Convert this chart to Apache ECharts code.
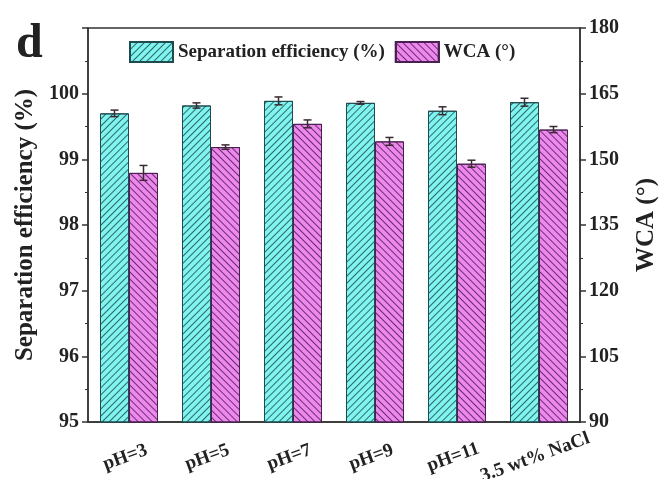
<!DOCTYPE html>
<html>
<head>
<meta charset="utf-8">
<script src="https://cdn.jsdelivr.net/npm/echarts@6/dist/echarts.min.js"></script>
<style>
html, body { margin: 0; padding: 0; background: #fff; }
#main { width: 660px; height: 479px; }
</style>
</head>
<body>
<div id="main"></div>
<script>
var categories = ['pH=3', 'pH=5', 'pH=7', 'pH=9', 'pH=11', '3.5 wt% NaCl'];
var sepEff = [99.70, 99.82, 99.89, 99.86, 99.74, 99.87];
var sepErr = [0.05, 0.04, 0.06, 0.02, 0.06, 0.06];
var wca = [146.9, 152.8, 158.1, 154.1, 149.0, 156.8];
var wcaErr = [1.7, 0.5, 0.9, 0.9, 0.8, 0.7];

var FONT = 'Liberation Serif';
var BAR_W = 29;

function errData(vals, errs) {
    return vals.map(function (v, i) { return [i, v, errs[i]]; });
}

// error bar drawn on top of each bar, shifted left/right to the bar centre
function errRender(offset) {
    return function (params, api) {
        var i = api.value(0), v = api.value(1), e = api.value(2);
        var hi = api.coord([i, v + e]);
        var lo = api.coord([i, v - e]);
        var x = hi[0] + offset;
        var cap = 4;
        var st = { stroke: '#3a2a30', lineWidth: 1.5 };
        return {
            type: 'group',
            children: [
                { type: 'line', shape: { x1: x, y1: hi[1], x2: x, y2: lo[1] }, style: st },
                { type: 'line', shape: { x1: x - cap, y1: hi[1], x2: x + cap, y2: hi[1] }, style: st },
                { type: 'line', shape: { x1: x - cap, y1: lo[1], x2: x + cap, y2: lo[1] }, style: st }
            ]
        };
    };
}

var chart = echarts.init(document.getElementById('main'));
chart.setOption({
    animation: false,
    title: {
        text: 'd', left: 11, top: 16,
        textStyle: { fontFamily: FONT, fontWeight: 'bold', fontSize: 48, color: '#222' }
    },
    legend: {
        top: 36, left: 124,
        icon: 'rect',
        itemWidth: 43, itemHeight: 20, itemGap: 10,
        textStyle: { fontFamily: FONT, fontWeight: 'bold', fontSize: 19, color: '#222' },
        data: ['Separation efficiency (%)', 'WCA (°)']
    },
    grid: {
        left: 88, right: 80, top: 28, bottom: 57,
        outerBoundsMode: 'none', containLabel: false,
        show: true, borderColor: '#333', borderWidth: 1.5
    },
    xAxis: {
        type: 'category',
        data: categories,
        axisLine: { lineStyle: { color: '#333', width: 1.5 } },
        axisTick: { alignWithLabel: true, length: 6, lineStyle: { color: '#333', width: 1.5 } },
        axisLabel: {
            rotate: 20, align: 'center', margin: 34, color: '#222',
            padding: [0, 8, 0, 0],
            fontFamily: FONT, fontWeight: 'bold', fontSize: 19
        }
    },
    yAxis: [{
        type: 'value', min: 95, max: 101, interval: 1,
        name: 'Separation efficiency (%)', nameLocation: 'middle', nameGap: 40, nameRotate: 90,
        nameTextStyle: { fontFamily: FONT, fontWeight: 'bold', fontSize: 25, color: '#222' },
        axisLine: { show: true, lineStyle: { color: '#333', width: 1.5 } },
        axisTick: { show: true, length: 6, lineStyle: { color: '#333', width: 1.5 } },
        minorTick: { show: true, splitNumber: 2, length: 3, lineStyle: { color: '#333' } },
        splitLine: { show: false },
        axisLabel: {
            color: '#222', fontFamily: FONT, fontWeight: 'bold', fontSize: 20, margin: 9,
            formatter: function (v) { return v > 100 ? '' : v; }
        }
    }, {
        type: 'value', min: 90, max: 180, interval: 15,
        name: 'WCA (°)', nameLocation: 'middle', nameGap: 54, nameRotate: 90,
        nameTextStyle: { fontFamily: FONT, fontWeight: 'bold', fontSize: 25, color: '#222' },
        axisLine: { show: true, lineStyle: { color: '#333', width: 1.5 } },
        axisTick: { show: true, length: 6, lineStyle: { color: '#333', width: 1.5 } },
        minorTick: { show: true, splitNumber: 2, length: 3, lineStyle: { color: '#333' } },
        splitLine: { show: false },
        axisLabel: { color: '#222', fontFamily: FONT, fontWeight: 'bold', fontSize: 20, margin: 9 }
    }],
    series: [{
        name: 'Separation efficiency (%)',
        type: 'bar', barWidth: BAR_W, barGap: '0%',
        data: sepEff,
        itemStyle: {
            color: '#80f4ee', borderColor: '#1f4a50', borderWidth: 1,
            decal: {
                symbol: 'rect', symbolSize: 1, color: 'rgba(25,70,75,0.8)',
                dashArrayX: [1, 0], dashArrayY: [1, 4], rotation: -Math.PI / 4
            }
        }
    }, {
        name: 'WCA (°)',
        type: 'bar', barWidth: BAR_W, barGap: '0%', yAxisIndex: 1,
        data: wca,
        itemStyle: {
            color: '#ee88ee', borderColor: '#4a2050', borderWidth: 1,
            decal: {
                symbol: 'rect', symbolSize: 1, color: 'rgba(70,25,75,0.8)',
                dashArrayX: [1, 0], dashArrayY: [1, 4], rotation: Math.PI / 4
            }
        }
    }, {
        type: 'custom', z: 10, silent: true,
        renderItem: errRender(-BAR_W / 2),
        encode: { x: 0, y: 1 },
        data: errData(sepEff, sepErr)
    }, {
        type: 'custom', z: 10, silent: true, yAxisIndex: 1,
        renderItem: errRender(BAR_W / 2),
        encode: { x: 0, y: 1 },
        data: errData(wca, wcaErr)
    }]
});
</script>
</body>
</html>
